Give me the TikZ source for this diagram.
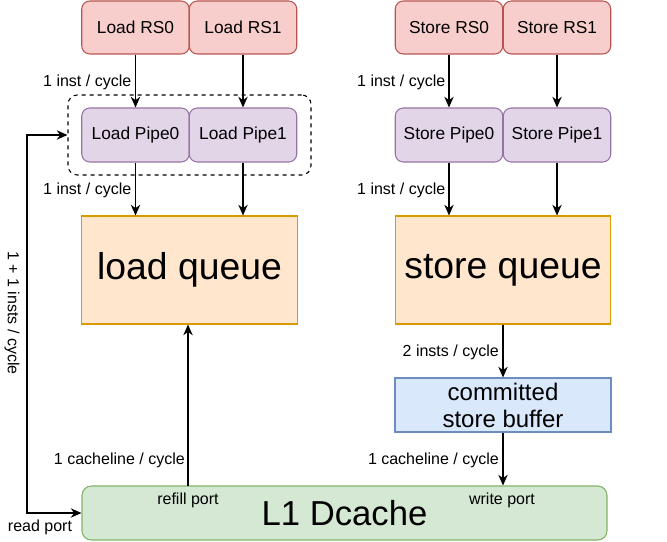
\documentclass[tikz,border=0pt]{standalone}
\usepackage{fontspec}
\setmainfont{Liberation Sans}
\usetikzlibrary{arrows.meta}
\definecolor{redfill}{HTML}{F8CECC}\definecolor{redline}{HTML}{B85450}
\definecolor{purfill}{HTML}{E1D5E7}\definecolor{purline}{HTML}{9673A6}
\definecolor{orafill}{HTML}{FFE6CC}\definecolor{oraline}{HTML}{D79B00}
\definecolor{blufill}{HTML}{DAE8FC}\definecolor{bluline}{HTML}{6C8EBF}
\definecolor{grefill}{HTML}{D5E8D4}\definecolor{greline}{HTML}{82B366}
\begin{document}
\begin{tikzpicture}[x=0.75pt,y=-0.75pt,
  box/.style={draw, line width=0.8pt, inner sep=0pt, align=center},
  rsbox/.style={box, rounded corners=6pt, fill=redfill, draw=redline, minimum width=80.6pt, minimum height=39.75pt, font=\fontsize{13pt}{15pt}\selectfont},
  pipebox/.style={box, rounded corners=6pt, fill=purfill, draw=purline, minimum width=80.6pt, minimum height=40.5pt, font=\fontsize{13pt}{15pt}\selectfont},
  queuebox/.style={box, fill=orafill, draw=oraline, minimum width=161.5pt, minimum height=81pt, font=\fontsize{28pt}{32pt}\selectfont},
  lbl/.style={inner sep=0pt, font=\fontsize{12pt}{14pt}\selectfont},
  arr/.style={line width=1pt, -{Stealth[length=8pt,width=7pt,inset=2.5pt]}},
  dbl/.style={line width=1pt, {Stealth[length=8pt,width=7pt,inset=2.5pt]}-{Stealth[length=8pt,width=7pt,inset=2.5pt]}}
]
\useasboundingbox (0,0) rectangle (667,542);

% dashed group
\node[draw, dashed, line width=0.8pt, rounded corners=7pt, minimum width=182.25pt, minimum height=60pt, inner sep=0pt] (grp) at (189.5,135) {};

% load side
\node[rsbox] (lrs0) at (135.5,27.5) {Load RS0};
\node[rsbox] (lrs1) at (243,27.5) {Load RS1};
\node[pipebox] (lp0) at (135.5,135) {Load Pipe0};
\node[pipebox] (lp1) at (243,135) {Load Pipe1};
\node[queuebox] (lq) at (189.5,270) {load queue};

% store side
\node[rsbox] (srs0) at (449,27.5) {Store RS0};
\node[rsbox] (srs1) at (557,27.5) {Store RS1};
\node[pipebox] (sp0) at (449,135) {Store Pipe0};
\node[pipebox] (sp1) at (557,135) {Store Pipe1};
\node[queuebox] (sq) at (503,270) {store queue};
\node[box, fill=blufill, draw=bluline, minimum width=162pt, minimum height=40.5pt, font=\fontsize{18pt}{20.25pt}\selectfont] (sb) at (503,405) {committed\\store buffer};

% L1
\node[box, rounded corners=7pt, fill=grefill, draw=greline, minimum width=393.75pt, minimum height=40.5pt, font=\fontsize{26pt}{30pt}\selectfont] (l1) at (344.5,513) {L1 Dcache};

% arrows load
\draw[arr] (lrs0) -- (lp0);
\draw[arr] (lrs1) -- (lp1);
\draw[arr] (lp0.south) -- (lp0.south |- lq.north);
\draw[arr] (lp1.south) -- (lp1.south |- lq.north);
% arrows store
\draw[arr] (srs0) -- (sp0);
\draw[arr] (srs1) -- (sp1);
\draw[arr] (sp0.south) -- (sp0.south |- sq.north);
\draw[arr] (sp1.south) -- (sp1.south |- sq.north);
\draw[arr] (sq) -- (sb);
\draw[arr] (sb) -- (sb.south |- l1.north);
% refill
\coordinate (rf) at (188,486);
\draw[arr] (rf) -- (rf |- lq.south);
% read port loop
\coordinate (lc) at (27,135);
\draw[dbl] (grp.west) -- (lc) |- (l1.west);

% labels
\node[lbl, anchor=east] (t1) at (131.5,82) {1 inst / cycle};
\node[lbl, anchor=east] (t2) at (131.5,190) {1 inst / cycle};
\node[lbl, anchor=east] (t3) at (445.5,82) {1 inst / cycle};
\node[lbl, anchor=east] (t4) at (445.5,190) {1 inst / cycle};
\node[lbl, anchor=east] (t5) at (499,352) {2 insts / cycle};
\node[lbl, anchor=east] (t6) at (185,460) {1 cacheline / cycle};
\node[lbl, anchor=east] (t7) at (499,460) {1 cacheline / cycle};
\node[lbl] (t8) at (188,500) {refill port};
\node[lbl] (t9) at (502,500) {write port};
\node[lbl] (t10) at (40,527) {read port};
\node[lbl, rotate=-90] (t11) at (12,313) {1 + 1 insts / cycle};
\end{tikzpicture}
\end{document}
